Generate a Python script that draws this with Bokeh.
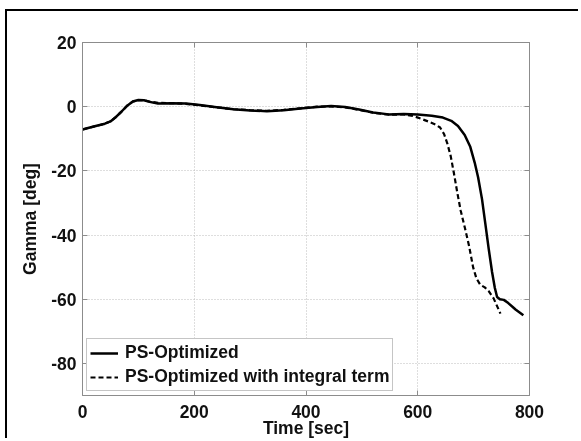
from bokeh.plotting import figure
from bokeh.models import Range1d, FixedTicker, LinearAxis, Legend, LegendItem, CustomJSTickFormatter
from bokeh.embed import file_html
from bokeh.resources import INLINE

# Data
t_solid = [0, 20, 40, 50, 60, 70, 80, 90, 100, 110, 120, 135, 160, 185, 210, 240, 270, 300, 330, 360,
           390, 420, 445, 470, 495, 520, 548, 575, 600, 625, 645, 660, 672, 684, 694, 702, 708, 715,
           721, 727, 733, 738, 742, 747, 754, 762, 775, 789]
g_solid = [-7.1, -6.2, -5.3, -4.6, -3.2, -1.5, 0.3, 1.6, 2.1, 2.0, 1.5, 1.0, 1.1, 1.0, 0.5, -0.2,
           -0.8, -1.2, -1.4, -1.1, -0.6, -0.1, 0.2, -0.1, -0.9, -1.8, -2.4, -2.3, -2.4, -2.8, -3.4,
           -4.4, -6.0, -8.8, -12.5, -17.5, -22.0, -28.8, -36.5, -44.3, -51.5, -56.5, -59.3, -60.0,
           -60.2, -61.2, -63.2, -65.0]

t_dash = [0, 20, 40, 50, 60, 70, 80, 90, 100, 110, 120, 135, 160, 185, 210, 240, 270, 300, 330, 360,
          390, 420, 445, 470, 495, 520, 548, 575, 592, 605, 620, 632, 640, 647, 653, 659, 665, 671,
          677, 684, 692, 699, 705, 712, 720, 727, 736, 748]
g_dash = [-7.1, -6.2, -5.3, -4.6, -3.2, -1.5, 0.3, 1.6, 2.0, 2.0, 1.6, 1.2, 1.1, 0.9, 0.4, -0.2,
          -0.8, -1.1, -1.3, -1.0, -0.5, 0.0, 0.1, -0.2, -1.0, -1.9, -2.5, -2.4, -2.9, -3.7, -4.7,
          -5.6, -6.5, -8.5, -11.5, -15.4, -21.0, -27.0, -32.5, -37.5, -43.5, -50.0, -53.5, -55.5,
          -56.3, -57.5, -59.8, -64.5]

x_ticks = [0, 200, 400, 600, 800]
y_ticks = [-80, -60, -40, -20, 0, 20]
labels = ["PS-Optimized", "PS-Optimized with integral term"]

FONT = "Liberation Sans"
FS = "17.5px"
GREY = "#8c8c8c"

p = figure(width=573, height=429, output_backend="svg", toolbar_location=None,
           x_range=Range1d(0, 800), y_range=Range1d(-90, 20),
           min_border_left=75, min_border_right=51, min_border_top=31, min_border_bottom=36,
           background_fill_color="white", border_fill_color="white")
p.styles = {"position": "fixed", "left": "5px", "top": "9px",
            "border-left": "2.5px solid black", "border-top": "2.5px solid black"}

p.outline_line_color = GREY
p.outline_line_width = 1

fmt = CustomJSTickFormatter(code="return tick.toString();")
for ax in (p.xaxis[0], p.yaxis[0]):
    ax.formatter = fmt
    ax.major_label_text_font = FONT
    ax.major_label_text_font_style = "bold"
    ax.major_label_text_font_size = FS
    ax.major_label_text_color = "#111111"
    ax.axis_label_text_font = FONT
    ax.axis_label_text_font_style = "bold"
    ax.axis_label_text_font_size = FS
    ax.axis_label_text_color = "#111111"
    ax.axis_line_color = GREY
    ax.major_tick_line_color = GREY
    ax.major_tick_in = 5
    ax.major_tick_out = 0
    ax.minor_tick_line_color = None
    ax.major_label_standoff = 6

p.xaxis[0].ticker = FixedTicker(ticks=x_ticks)
p.yaxis[0].ticker = FixedTicker(ticks=y_ticks)
p.xaxis[0].axis_label = "Time [sec]"
p.yaxis[0].axis_label = "Gamma [deg]"
p.xaxis[0].major_label_standoff = 9
p.xaxis[0].axis_label_standoff = -3
p.yaxis[0].axis_label_standoff = 8

for loc, tk in (("above", x_ticks), ("right", y_ticks)):
    a = LinearAxis(ticker=FixedTicker(ticks=tk), major_label_text_font_size="0px",
                   axis_line_color=GREY, major_tick_line_color=GREY,
                   major_tick_in=5, major_tick_out=0, minor_tick_line_color=None)
    a.major_label_text_color = None
    p.add_layout(a, loc)

p.xgrid.ticker = FixedTicker(ticks=x_ticks)
p.ygrid.ticker = FixedTicker(ticks=y_ticks)
for g in (p.xgrid, p.ygrid):
    g.grid_line_color = "#bdbdbd"
    g.grid_line_dash = "1 2"
    g.grid_line_width = 1

r1 = p.line(t_solid, g_solid, line_color="black", line_width=2.5, line_join="round")
r2 = p.line(t_dash, g_dash, line_color="black", line_width=2.2, line_dash="5 3")

legend = Legend(items=[LegendItem(label=labels[0], renderers=[r1]),
                       LegendItem(label=labels[1], renderers=[r2])],
                location=(4, 4))
legend.label_text_font = FONT
legend.label_text_font_style = "bold"
legend.label_text_font_size = FS
legend.label_text_color = "#111111"
legend.border_line_color = GREY
legend.border_line_width = 1
legend.padding = 3
legend.margin = 0
legend.spacing = 3
legend.glyph_width = 28
legend.glyph_height = 20
legend.label_height = 20
legend.label_standoff = 7
legend.background_fill_alpha = 1
p.add_layout(legend, "center")

open("out.html", "w").write(file_html(p, INLINE))
